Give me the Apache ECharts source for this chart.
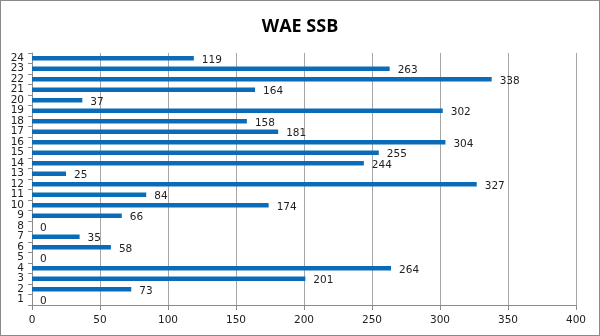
<!DOCTYPE html>
<html>
<head>
<meta charset="utf-8">
<script src="https://cdn.jsdelivr.net/npm/echarts@6/dist/echarts.min.js"></script>
<style>
  html, body { margin: 0; padding: 0; background: #fff; }
  #chart { width: 600px; height: 336px; box-sizing: border-box; border: 1px solid #8a8a8a; }
</style>
</head>
<body>
<div id="chart"></div>
<script>
// Category names (bottom to top) and SSB values
const categories = ['1','2','3','4','5','6','7','8','9','10','11','12','13','14','15','16','17','18','19','20','21','22','23','24'];
const values = [0, 73, 201, 264, 0, 58, 35, 0, 66, 174, 84, 327, 25, 244, 255, 304, 181, 158, 302, 37, 164, 338, 263, 119];
const xTicks = { min: 0, max: 400, interval: 50 };

const chart = echarts.init(document.getElementById('chart'), null, { renderer: 'canvas' });
chart.setOption({
  animation: false,
  title: {
    text: 'WAE SSB',
    left: 'center',
    top: 12,
    textStyle: { fontFamily: 'Open Sans', fontSize: 18, fontWeight: 'bold', color: '#000' }
  },
  grid: { left: 31, right: 23, top: 52, bottom: 30, containLabel: false },
  xAxis: {
    type: 'value',
    min: xTicks.min, max: xTicks.max, interval: xTicks.interval,
    axisLine: { show: true, lineStyle: { color: '#8c8c8c', width: 1 } },
    axisTick: { show: true, length: 5, lineStyle: { color: '#8c8c8c' } },
    splitLine: { show: true, lineStyle: { color: '#a6a6a6', width: 1 } },
    axisLabel: { fontFamily: 'DejaVu Sans', fontSize: 10.5, color: '#222', margin: 10 }
  },
  yAxis: {
    type: 'category',
    data: categories,
    axisLine: { show: true, lineStyle: { color: '#8c8c8c', width: 1 } },
    axisTick: { show: true, length: 4, alignWithLabel: false, lineStyle: { color: '#8c8c8c' } },
    axisLabel: { fontFamily: 'DejaVu Sans', fontSize: 10.5, color: '#222', margin: 8, interval: 0 }
  },
  series: [{
    type: 'bar',
    data: values,
    barWidth: 4.5,
    itemStyle: { color: '#0a6cb8' },
    label: {
      show: true,
      position: 'right',
      distance: 8,
      offset: [0, 2],
      fontFamily: 'DejaVu Sans',
      fontSize: 10.5,
      color: '#222'
    }
  }]
});
</script>
</body>
</html>
